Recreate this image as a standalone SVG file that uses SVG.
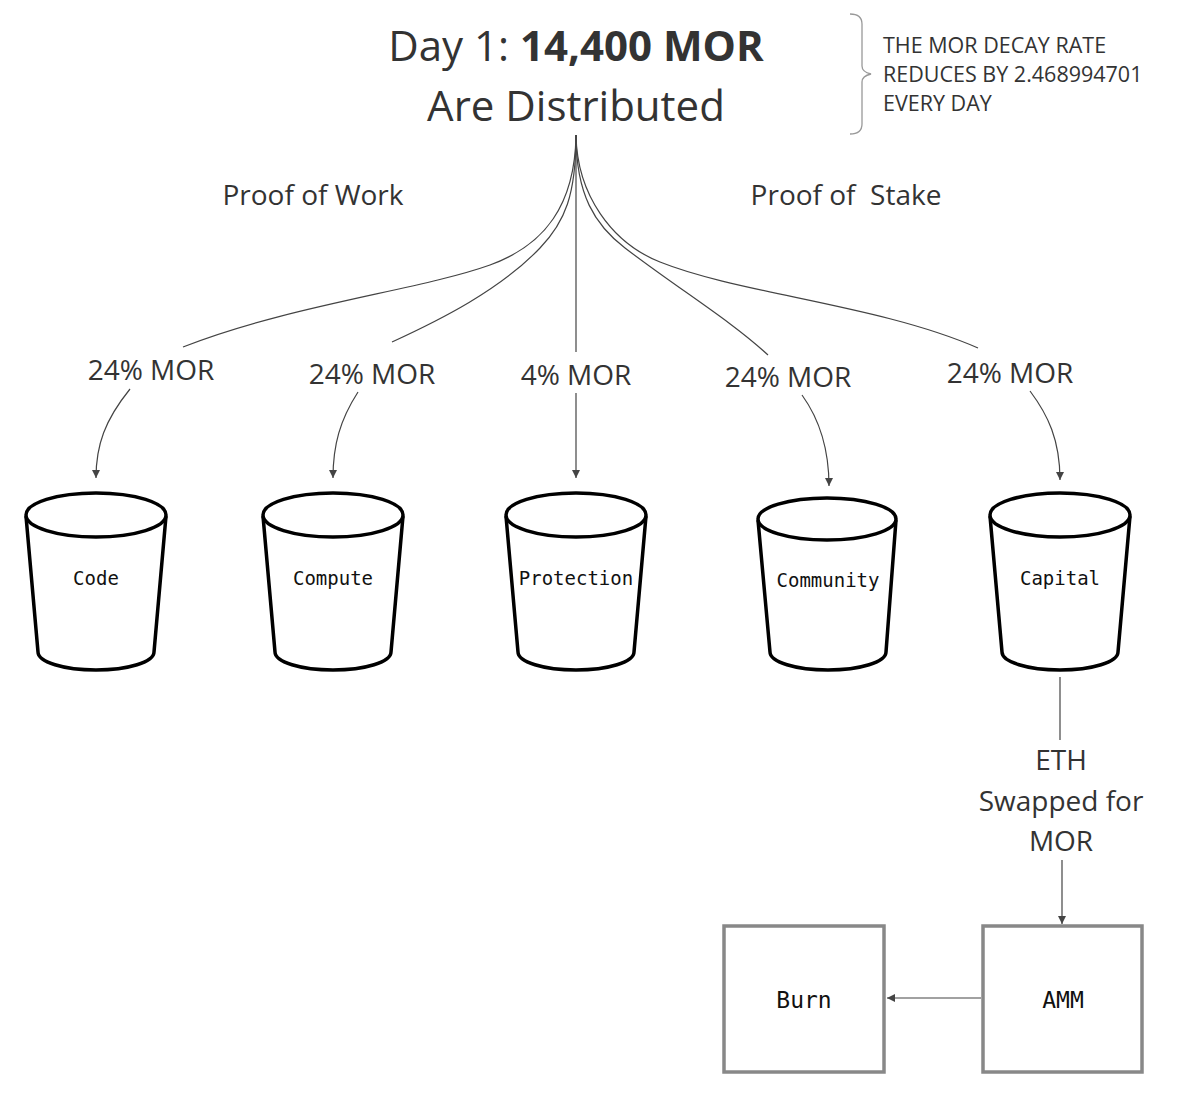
<svg xmlns="http://www.w3.org/2000/svg" width="1200" height="1115" viewBox="0 0 1200 1115">
<defs>
<style>
.t{font-family:"Open Sans","Noto Sans","DejaVu Sans",sans-serif;fill:#333;text-anchor:middle}
.m{font-family:"DejaVu Sans Mono","Liberation Mono",monospace;fill:#111;text-anchor:middle}
.bk{fill:#fff;stroke:#000;stroke-width:3.5;stroke-linejoin:round}
.c{fill:none;stroke:#444;stroke-width:1.2}
.box{fill:#fff;stroke:#888;stroke-width:3.5}
.n{font-family:"Open Sans","Noto Sans",sans-serif;fill:#333;font-size:21.5px}
</style>
<marker id="ah" markerUnits="userSpaceOnUse" markerWidth="9" markerHeight="8" refX="8" refY="4" orient="auto">
<path d="M0,0 L8,4 L0,8 z" fill="#444"/>
</marker>
</defs>
<rect width="1200" height="1115" fill="#fff"/>
<g id="title">
<text class="t" x="576" y="61" font-size="42" fill="#222"><tspan>Day 1: </tspan><tspan font-weight="bold">14,400 MOR</tspan></text>
<text class="t" x="576" y="121" font-size="42">Are Distributed</text>
</g>
<g id="note">
<path d="M850,14 Q862,14 862,24 L862,66 Q862,72 871,74 Q862,76 862,82 L862,124 Q862,134 850,134" fill="none" stroke="#999" stroke-width="1.3"/>
<text class="n" x="883" y="53">THE MOR DECAY RATE</text>
<text class="n" x="883" y="82">REDUCES BY 2.468994701</text>
<text class="n" x="883" y="111">EVERY DAY</text>
</g>
<g id="groups">
<text class="t" x="313" y="205" font-size="28">Proof of Work</text>
<text class="t" x="846" y="205" font-size="28" xml:space="preserve">Proof of  Stake</text>
</g>
<g id="connectors">
<path class="c" d="M576,135 C575,205 545,245 490,265 C420,290 290,305 183,347"/>
<path class="c" d="M576,135 C576,195 565,222 540,248 C500,290 440,320 392,342"/>
<path class="c" d="M576,135 L576,352"/>
<path class="c" d="M576,135 C576,195 595,225 625,248 C680,290 730,320 768,355"/>
<path class="c" d="M576,135 C577,195 612,243 660,262 C740,294 880,305 978,348"/>
<path class="c" d="M130,389 C105,420 96,445 96,478" marker-end="url(#ah)"/>
<path class="c" d="M358,392 C340,420 333,445 333,478" marker-end="url(#ah)"/>
<path class="c" d="M576,393 L576,478" marker-end="url(#ah)"/>
<path class="c" d="M802,395 C820,420 829,450 829,486" marker-end="url(#ah)"/>
<path class="c" d="M1030,391 C1048,415 1060,440 1060,480" marker-end="url(#ah)"/>
<path class="c" d="M1060,677 L1060,740" stroke="#777"/>
<path class="c" d="M1062,860 L1062,924" marker-end="url(#ah)"/>
<path class="c" d="M981,998 L887,998" marker-end="url(#ah)"/>
</g>
<g id="labels">
<text class="t" x="151" y="380" font-size="28">24% MOR</text>
<text class="t" x="372" y="384" font-size="28">24% MOR</text>
<text class="t" x="576" y="385" font-size="28">4% MOR</text>
<text class="t" x="788" y="387" font-size="28">24% MOR</text>
<text class="t" x="1010" y="383" font-size="28">24% MOR</text>
<text class="t" x="1061" y="770" font-size="28">ETH</text>
<text class="t" x="1061" y="811" font-size="28">Swapped for</text>
<text class="t" x="1061" y="851" font-size="28">MOR</text>
</g>
<g id="code">
<path class="bk" d="M26,516 L38,652 A58,18 0 0 0 154,652 L166,516"/>
<ellipse class="bk" cx="96" cy="515" rx="70" ry="22"/>
<text class="m" x="96" y="585" font-size="19">Code</text>
</g>
<g id="compute">
<path class="bk" d="M263,516 L275,652 A58,18 0 0 0 391,652 L403,516"/>
<ellipse class="bk" cx="333" cy="515" rx="70" ry="22"/>
<text class="m" x="333" y="585" font-size="19">Compute</text>
</g>
<g id="protection">
<path class="bk" d="M506,516 L518,652 A58,18 0 0 0 634,652 L646,516"/>
<ellipse class="bk" cx="576" cy="515" rx="70" ry="22"/>
<text class="m" x="576" y="585" font-size="19">Protection</text>
</g>
<g id="community">
<path class="bk" d="M758,520 L770,652 A58,18 0 0 0 886,652 L896,520"/>
<ellipse class="bk" cx="827" cy="519" rx="69" ry="21"/>
<text class="m" x="828" y="587" font-size="19">Community</text>
</g>
<g id="capital">
<path class="bk" d="M990,516 L1002,652 A58,18 0 0 0 1118,652 L1130,516"/>
<ellipse class="bk" cx="1060" cy="515" rx="70" ry="22"/>
<text class="m" x="1060" y="585" font-size="19">Capital</text>
</g>
<g id="burn">
<rect class="box" x="724" y="926" width="160" height="146"/>
<text class="m" x="804" y="1008" font-size="23">Burn</text>
</g>
<g id="amm">
<rect class="box" x="983" y="926" width="159" height="146"/>
<text class="m" x="1063" y="1008" font-size="23">AMM</text>
</g>
</svg>
